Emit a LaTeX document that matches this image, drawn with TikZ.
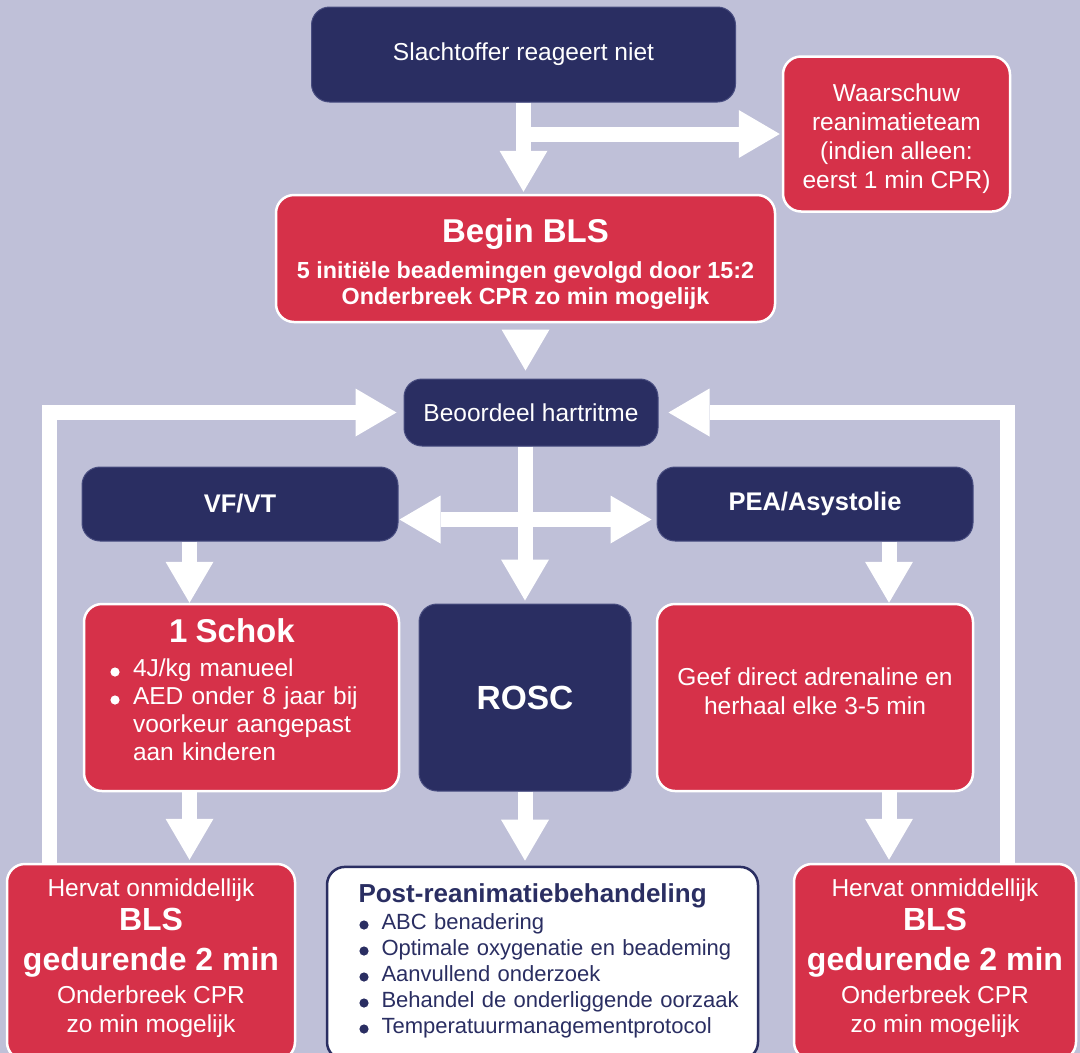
\documentclass[tikz,border=0pt]{standalone}
\usepackage{fontspec}
\setmainfont{Liberation Sans}
\usetikzlibrary{arrows.meta}
\definecolor{bgc}{RGB}{191,192,216}
\definecolor{navy}{RGB}{42,46,98}
\definecolor{navyedge}{RGB}{72,77,128}
\definecolor{redc}{RGB}{214,49,73}
\tikzset{
  boxbase/.style={rectangle, rounded corners=18pt, inner sep=0pt, text=white, align=center},
  redbox/.style={boxbase, fill=redc, draw=white, line width=2.5pt},
  navybox/.style={boxbase, fill=navy, draw=navyedge, line width=1pt},
  whitebox/.style={boxbase, fill=white, draw=navy, line width=2.5pt, text=navy},
  bigarrow/.style={draw=white, line width=15pt, -{Triangle[width=48pt,length=41pt,line width=0pt]}},
  looparrow/.style={bigarrow, line join=miter},
  regtxt/.style={font=\fontsize{24.5}{29}\selectfont},
  boldtxt/.style={font=\fontsize{25.5}{29}\selectfont\bfseries},
  bulletdot/.style={radius=4.6pt},
}
\begin{document}
\begin{tikzpicture}[x=1pt,y=-1pt]
\useasboundingbox (0,0) rectangle (1080,1053);
\clip (0,0) rectangle (1080,1053);
\fill[bgc] (0,0) rectangle (1080,1053);

% boxes
\node[navybox, regtxt, minimum width=424pt, minimum height=95pt] (top) at (523.5,54.5) {Slachtoffer reageert niet};
\node[redbox, regtxt, minimum width=227pt, minimum height=155pt] (warn) at (896.5,134)
  {\rule{0pt}{28pt}Waarschuw\\ reanimatieteam\\ (indien alleen:\\ eerst 1 min CPR)};
\node[redbox, font=\fontsize{23.3}{26}\selectfont\bfseries, minimum width=499pt, minimum height=127pt] (bls) at (525.5,258.5)
  {\rule{0pt}{35pt}{\fontsize{33}{36}\selectfont Begin BLS}\\[10pt]
   5 initiële beademingen gevolgd door 15:2\\
   Onderbreek CPR zo min mogelijk};
\node[navybox, regtxt, minimum width=254pt, minimum height=67pt] (beo) at (531,412.5) {Beoordeel hartritme};
\node[navybox, boldtxt, minimum width=316pt, minimum height=74pt] (vf) at (240,504) {VF/VT};
\node[navybox, boldtxt, minimum width=316pt, minimum height=74pt] (pea) at (815,504) {PEA/Asystolie};
\node[redbox, font=\fontsize{24.5}{28}\selectfont, align=left, text width=263pt, minimum width=315pt, minimum height=187pt] (schok) at (241.5,697.5)
  {\makebox[244pt][c]{\fontsize{33}{36}\selectfont\bfseries 1 Schok}\\[6pt]
   \hspace*{23pt}4J/kg manueel\\
   \hspace*{23pt}AED onder 8 jaar bij\\
   \hspace*{23pt}voorkeur aangepast\\
   \hspace*{23pt}aan kinderen\rule[-15pt]{0pt}{15pt}};
\node[navybox, font=\fontsize{33.5}{36}\selectfont\bfseries, minimum width=212pt, minimum height=187pt] (rosc) at (525,697.5) {ROSC};
\node[redbox, regtxt, minimum width=316pt, minimum height=187pt] (geef) at (815,697.5)
  {Geef direct adrenaline en\\ herhaal elke 3-5 min\rule[-12pt]{0pt}{12pt}};
\node[redbox, regtxt, minimum width=288pt, minimum height=196pt] (hl) at (151,962)
  {Hervat onmiddellijk\\[5pt]
   {\fontsize{32}{36}\selectfont\bfseries BLS}\\[11pt]
   {\fontsize{32}{36}\selectfont\bfseries gedurende 2 min}\\[4pt]
   Onderbreek CPR\\
   zo min mogelijk\rule[-13pt]{0pt}{13pt}};
\node[whitebox, font=\fontsize{22}{26}\selectfont, align=left, text width=368pt, minimum width=431pt, minimum height=193pt] (post) at (542.5,963.4)
  {{\fontsize{26}{30}\selectfont\bfseries Post-reanimatiebehandeling}\\[1pt]
   \mbox{\hspace*{23pt}ABC benadering}\\
   \mbox{\hspace*{23pt}Optimale oxygenatie en beademing}\\
   \mbox{\hspace*{23pt}Aanvullend onderzoek}\\
   \mbox{\hspace*{23pt}Behandel de onderliggende oorzaak}\\
   \mbox{\hspace*{23pt}Temperatuurmanagementprotocol}\rule[-9pt]{0pt}{9pt}};
\node[redbox, regtxt, minimum width=282pt, minimum height=196pt] (hr) at (935,962)
  {Hervat onmiddellijk\\[5pt]
   {\fontsize{32}{36}\selectfont\bfseries BLS}\\[11pt]
   {\fontsize{32}{36}\selectfont\bfseries gedurende 2 min}\\[4pt]
   Onderbreek CPR\\
   zo min mogelijk\rule[-13pt]{0pt}{13pt}};

% bullet dots
\foreach \yy in {672,700} \fill[white, bulletdot] (115,\yy) circle;
\foreach \yy in {925,951,977,1003,1029} \fill[navy, bulletdot] (364,\yy) circle;

% arrows
\draw[bigarrow, shorten >=2pt] (top.south) -- (top.south |- bls.north);
\draw[bigarrow, shorten >=2pt] (top.south |- warn.west) -- (warn.west);
\draw[bigarrow, shorten <=7pt, shorten >=8pt] (bls.south) -- (bls.south |- beo.north);
\draw[bigarrow, shorten >=3pt] (rosc.north |- beo.south) -- (rosc.north);
\coordinate (hub) at (525,519.5);
\draw[bigarrow, shorten >=1pt] (hub) -- (hub -| vf.east);
\draw[bigarrow, shorten >=5pt] (hub) -- (hub -| pea.west);
\coordinate (lx) at (189.5,0);
\coordinate (rx) at (889,0);
\draw[bigarrow] (vf.south -| lx) -- (schok.north -| lx);
\draw[bigarrow, shorten >=3pt] (schok.south -| lx) -- (hl.north -| lx);
\draw[bigarrow, shorten >=5pt] (rosc.south) -- (rosc.south |- post.north);
\draw[bigarrow] (pea.south -| rx) -- (geef.north -| rx);
\draw[bigarrow, shorten >=3pt] (geef.south -| rx) -- (hr.north -| rx);
\coordinate (llx) at (49.5,0);
\coordinate (rrx) at (1007.5,0);
\draw[looparrow, shorten >=7pt] (hl.north -| llx) |- (beo.west);
\draw[looparrow, shorten >=10pt] (hr.north -| rrx) |- (beo.east);
\end{tikzpicture}
\end{document}
